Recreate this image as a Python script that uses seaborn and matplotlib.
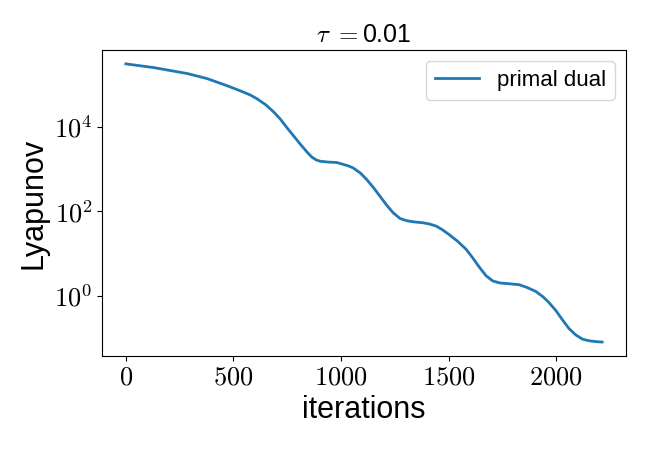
import matplotlib
matplotlib.use("Agg")
import matplotlib.pyplot as plt
import matplotlib.ticker as mticker
import numpy as np
import pandas as pd
import seaborn as sns

# iterations and log10(Lyapunov)
iterations = [0, 131, 286, 378, 471, 532, 579, 610, 650, 687, 718, 748, 780, 810, 840,
              864, 885, 903, 940, 980, 1034, 1057, 1090, 1119, 1150, 1181, 1212, 1242,
              1275, 1304, 1340, 1381, 1412, 1443, 1470, 1500, 1540, 1582, 1612, 1644,
              1675, 1705, 1740, 1767, 1829, 1867, 1906, 1940, 1968, 2000, 2029, 2060,
              2091, 2122, 2153, 2185, 2214]
log_lyapunov = [5.50, 5.41, 5.27, 5.15, 4.98, 4.86, 4.76, 4.67, 4.53, 4.36, 4.19, 3.99,
                3.79, 3.60, 3.42, 3.29, 3.22, 3.19, 3.17, 3.16, 3.08, 3.03, 2.91, 2.76,
                2.57, 2.36, 2.15, 1.97, 1.83, 1.78, 1.75, 1.73, 1.70, 1.65, 1.57, 1.46,
                1.30, 1.10, 0.90, 0.67, 0.47, 0.35, 0.30, 0.29, 0.26, 0.19, 0.10, -0.03,
                -0.17, -0.36, -0.57, -0.78, -0.93, -1.03, -1.07, -1.09, -1.10]
series_name = "primal dual"
y_ticks = [1, 100, 10000]

df = pd.DataFrame({"iterations": iterations,
                   "Lyapunov": [10 ** v for v in log_lyapunov],
                   "method": series_name})

plt.rcParams["mathtext.fontset"] = "cm"
plt.rcParams["font.family"] = ["Liberation Sans", "DejaVu Sans"]

fig, ax = plt.subplots(figsize=(6.5, 4.5), dpi=100)
fig.subplots_adjust(left=0.157, right=0.963, top=0.889, bottom=0.209)

sns.lineplot(data=df, x="iterations", y="Lyapunov", hue="method",
             palette=["#1f77b4"], linewidth=2, ax=ax)
ax.set_yscale("log")
ax.yaxis.set_major_locator(mticker.FixedLocator(y_ticks))
ax.yaxis.set_minor_locator(mticker.NullLocator())
ax.yaxis.set_major_formatter(mticker.FuncFormatter(
    lambda v, p: r"$10^{%d}$" % int(round(np.log10(v)))))
ax.xaxis.set_major_locator(mticker.MultipleLocator(500))
ax.xaxis.set_major_formatter(mticker.FuncFormatter(lambda v, p: r"$%d$" % int(v)))
ax.tick_params(labelsize=19)

ax.set_xlabel("iterations", fontsize=22)
ax.set_ylabel("Lyapunov", fontsize=22)
ax.set_title(r"$\tau$ $=$0.01", fontsize=18)
ax.legend(title=None, fontsize=16, loc="upper right")

fig.savefig("out.png", dpi=100)
